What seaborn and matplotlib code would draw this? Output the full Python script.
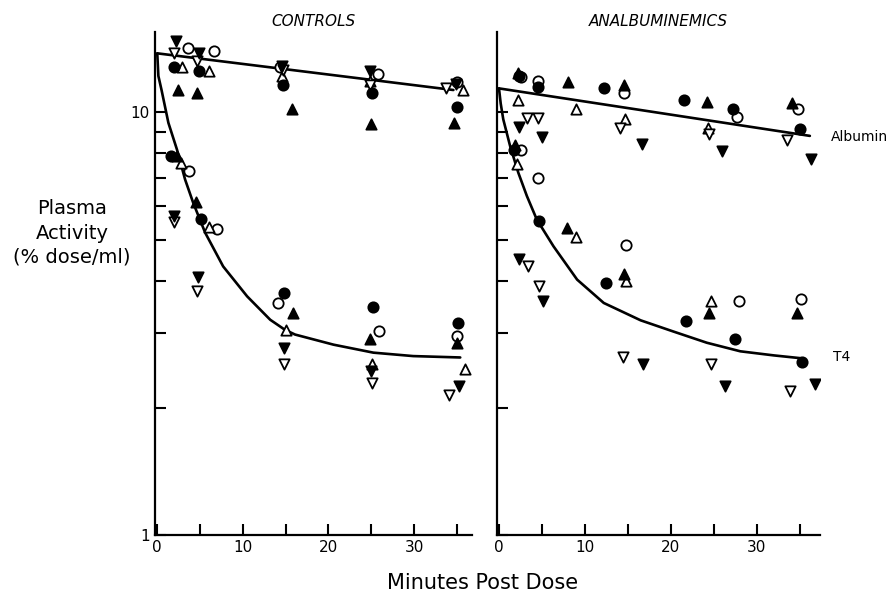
import numpy as np
import pandas as pd
import seaborn as sns
from matplotlib import pyplot as plt
from matplotlib.ticker import NullFormatter

# symbols: fc / oc = filled / open circle, fu / ou = filled / open triangle up,
# fd / od = filled / open triangle down

# controls, albumin points
ctrl_alb_min = [2.2, 1.9, 3.6, 1.9, 2.9, 2.4,
                4.9, 4.7, 6.6, 4.9, 6.05, 4.6,
                14.6, 14.3, 14.7, 14.55, 14.7, 15.8,
                24.9, 25.8, 24.9, 24.9, 25.1, 25.0,
                35.0, 33.75, 34.9, 35.7, 35.0, 34.7]
ctrl_alb_val = [14.8, 13.8, 14.2, 12.8, 12.8, 11.3,
                13.8, 13.2, 14.0, 12.5, 12.5, 11.1,
                12.9, 12.8, 12.6, 12.2, 11.6, 10.2,
                12.5, 12.3, 11.9, 11.6, 11.1, 9.4,
                11.8, 11.4, 11.7, 11.3, 10.3, 9.45]
ctrl_alb_sym = ['fd', 'od', 'oc', 'fc', 'ou', 'fu',
                'fd', 'od', 'oc', 'fc', 'ou', 'fu',
                'fd', 'oc', 'od', 'ou', 'fc', 'fu',
                'fd', 'oc', 'ou', 'od', 'fc', 'fu',
                'oc', 'od', 'fd', 'ou', 'fc', 'fu']

# controls, T4 points
ctrl_t4_min = [1.6, 2.35, 2.75, 3.7, 1.9, 1.9,
               4.5, 5.1, 6.0, 7.0, 4.8, 4.7,
               14.85, 14.15, 15.9, 15.0, 14.85, 14.8,
               25.25, 25.95, 24.9, 25.1, 25.0, 25.1,
               35.1, 35.0, 35.0, 35.9, 35.2, 34.1]
ctrl_t4_val = [7.9, 7.9, 7.6, 7.25, 5.7, 5.5,
               6.13, 5.58, 5.36, 5.30, 4.07, 3.77,
               3.74, 3.54, 3.36, 3.06, 2.77, 2.54,
               3.46, 3.03, 2.91, 2.54, 2.44, 2.29,
               3.18, 2.96, 2.84, 2.47, 2.25, 2.14]
ctrl_t4_sym = ['fc', 'fu', 'ou', 'oc', 'fd', 'od',
               'fu', 'fc', 'ou', 'oc', 'fd', 'od',
               'fc', 'oc', 'fu', 'ou', 'fd', 'od',
               'fc', 'oc', 'fu', 'ou', 'fd', 'od',
               'fc', 'oc', 'fu', 'ou', 'fd', 'od']

# analbuminemics, albumin points
anal_alb_min = [2.2, 2.3, 2.55, 4.53, 4.53, 7.99,
                12.26, 14.6, 14.6, 21.5, 24.2,
                27.3, 27.7, 34.1, 34.8, 35.1,
                2.2, 3.25, 4.6, 2.35, 5.0, 8.96,
                14.7, 14.05, 16.66, 24.35, 24.4, 26.0,
                33.5, 36.3]
anal_alb_val = [12.4, 12.2, 12.1, 11.9, 11.5, 11.8,
                11.4, 11.6, 11.1, 10.7, 10.6,
                10.2, 9.75, 10.5, 10.2, 9.15,
                10.7, 9.7, 9.68, 9.25, 8.76, 10.2,
                9.63, 9.2, 8.43, 9.2, 8.87, 8.1,
                8.6, 7.74]
anal_alb_sym = ['fu', 'fc', 'oc', 'oc', 'fc', 'fu',
                'fc', 'fu', 'oc', 'fc', 'fu',
                'fc', 'oc', 'fu', 'oc', 'fc',
                'ou', 'od', 'od', 'fd', 'fd', 'ou',
                'ou', 'od', 'fd', 'ou', 'od', 'fd',
                'od', 'fd']

# analbuminemics, T4 points
anal_t4_min = [1.9, 1.7, 2.55, 2.1, 4.6, 4.7,
               7.9, 8.96, 14.8, 2.3, 3.4, 4.7,
               5.1, 12.5, 14.6, 14.8,
               21.8, 24.7, 24.5, 27.9, 27.5,
               35.2, 34.7, 35.3, 14.4, 16.8,
               24.7, 26.3, 33.9, 36.8]
anal_t4_val = [8.37, 8.17, 8.17, 7.57, 6.98, 5.53,
               5.33, 5.08, 4.85, 4.51, 4.32, 3.88,
               3.58, 3.95, 4.15, 3.98,
               3.21, 3.57, 3.35, 3.58, 2.91,
               3.62, 3.35, 2.56, 2.64, 2.54,
               2.54, 2.25, 2.19, 2.27]
anal_t4_sym = ['fu', 'fc', 'oc', 'ou', 'oc', 'fc',
               'fu', 'ou', 'oc', 'fd', 'od', 'od',
               'fd', 'fc', 'fu', 'ou',
               'fc', 'ou', 'fu', 'oc', 'fc',
               'oc', 'fu', 'fc', 'od', 'fd',
               'od', 'fd', 'od', 'fd']

# fitted curves
ctrl_alb_fit_min = [0, 34.6]
ctrl_alb_fit_val = [13.8, 11.3]
ctrl_t4_fit_min = [0, 0.13, 0.5, 1.3, 2.3, 3.25, 4.2, 5.6, 7.7, 10.5, 13.2, 14.9,
                   16.1, 20.6, 25.25, 29.9, 35.4]
ctrl_t4_fit_val = [13.8, 12.2, 11.3, 9.45, 8.17, 6.94, 6.11, 5.19, 4.32, 3.67, 3.23,
                   3.06, 2.98, 2.82, 2.70, 2.65, 2.63]
anal_alb_fit_min = [0, 36.2]
anal_alb_fit_val = [11.4, 8.8]
anal_t4_fit_min = [0, 0.2, 0.5, 1.3, 2.25, 3.25, 4.4, 6.35, 9.1, 12.2, 16.5, 20.3,
                   24.2, 28.1, 32.0, 35.1]
anal_t4_fit_val = [11.4, 10.5, 9.63, 8.32, 7.2, 6.34, 5.58, 4.82, 4.02, 3.54, 3.22,
                   3.03, 2.85, 2.72, 2.66, 2.62]

panels = ['CONTROLS', 'ANALBUMINEMICS']


def make_points(mins, vals, syms, panel):
    return pd.DataFrame({'minutes': mins, 'value': vals, 'symbol': syms, 'panel': panel})


points = pd.concat([
    make_points(ctrl_alb_min, ctrl_alb_val, ctrl_alb_sym, panels[0]),
    make_points(ctrl_t4_min, ctrl_t4_val, ctrl_t4_sym, panels[0]),
    make_points(anal_alb_min, anal_alb_val, anal_alb_sym, panels[1]),
    make_points(anal_t4_min, anal_t4_val, anal_t4_sym, panels[1]),
], ignore_index=True)

fits = {
    panels[0]: [(ctrl_alb_fit_min, ctrl_alb_fit_val), (ctrl_t4_fit_min, ctrl_t4_fit_val)],
    panels[1]: [(anal_alb_fit_min, anal_alb_fit_val), (anal_t4_fit_min, anal_t4_fit_val)],
}

# marker look for each symbol code
marker_style = {
    'oc': ('o', 'white'), 'ou': ('^', 'white'), 'od': ('v', 'white'),
    'fc': ('o', 'black'), 'fu': ('^', 'black'), 'fd': ('v', 'black'),
}

sns.set_theme(style='ticks')
plt.rcParams['font.family'] = ['DejaVu Sans']
plt.rcParams['axes.linewidth'] = 1.6
plt.rcParams['axes.edgecolor'] = 'black'
plt.rcParams['text.color'] = 'black'
plt.rcParams['axes.labelcolor'] = 'black'
plt.rcParams['axes.titlecolor'] = 'black'

fig = plt.figure(figsize=(8.91, 5.93), dpi=100)
ax_left = fig.add_axes([0.174, 0.098, 0.356, 0.848])
ax_right = fig.add_axes([0.558, 0.098, 0.3625, 0.848])
axes = {panels[0]: ax_left, panels[1]: ax_right}
xlims = {panels[0]: (-0.26, 36.8), panels[1]: (-0.21, 37.4)}

for panel, ax in axes.items():
    ax.set_yscale('log')
    for fit_min, fit_val in fits[panel]:
        sns.lineplot(x=fit_min, y=fit_val, color='black', lw=1.9, sort=False,
                     estimator=None, ax=ax, zorder=2)
    sub = points[points['panel'] == panel]
    for sym in ['oc', 'ou', 'od', 'fc', 'fu', 'fd']:
        part = sub[sub['symbol'] == sym]
        marker, face = marker_style[sym]
        sns.scatterplot(data=part, x='minutes', y='value', marker=marker, s=55,
                        facecolor=face, edgecolor='black', linewidth=1.3,
                        legend=False, ax=ax, zorder=3)

    ax.set_xlim(*xlims[panel])
    ax.set_ylim(1, 15.5)
    ax.set_xticks([0, 10, 20, 30])
    ax.set_xticks([5, 15, 25, 35], minor=True)
    ax.set_yticks([1, 10])
    ax.set_yticks(range(2, 10), minor=True)
    ax.yaxis.set_minor_formatter(NullFormatter())
    ax.xaxis.set_minor_formatter(NullFormatter())
    ax.tick_params(which='both', direction='in', length=8, width=1.5,
                   labelsize=11, pad=4, colors='black')
    ax.set_xlabel('')
    ax.set_ylabel('')
    ax.set_title(panel, fontsize=11, style='italic', pad=4, color='black')
    ax.set_facecolor('white')
    sns.despine(ax=ax)

ax_left.set_yticklabels(['1', '10'])
ax_right.set_yticklabels(['', ''])

ax_right.text(38.7, 8.77, 'Albumin', fontsize=10, va='center', ha='left', clip_on=False)
ax_right.text(38.9, 2.64, 'T4', fontsize=10, va='center', ha='left', clip_on=False)

fig.text(0.081, 0.607, 'Plasma\nActivity\n(% dose/ml)', fontsize=14, ha='center',
         va='center', multialignment='center', linespacing=1.35)
fig.text(0.542, 0.007, 'Minutes Post Dose', fontsize=15, ha='center', va='baseline')

fig.savefig('out.png', dpi=100, facecolor='white')
